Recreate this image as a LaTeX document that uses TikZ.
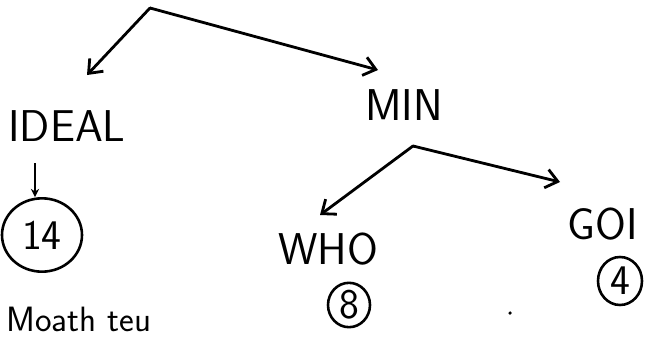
\documentclass[tikz,border=0pt]{standalone}
\usepackage{tikz}
\usetikzlibrary{arrows.meta,positioning,shapes.geometric}

\begin{document}
\begin{tikzpicture}[x=0.03cm, y=-0.03cm,
    every node/.style={font=\sffamily\fontsize{38}{38}\selectfont},
    word/.style={inner sep=1pt},
    score/.style={draw, ellipse, line width=2.2pt, inner sep=1pt, font=\sffamily\fontsize{36}{36}\selectfont},
    branch/.style={line width=2.4pt, line cap=round, -{Straight Barb[length=10pt, width=16pt, line width=2.4pt]}}]
  \useasboundingbox (0,0) rectangle (647,339);
  % Top split into two branches
  \coordinate (root) at (150,8);
  \coordinate (rootL) at (87,75);
  \coordinate (rootR) at (378,70);
  \node[word] (ideal) at (67,126) {IDEAL};
  \node[word] (min) at (404,105) {MIN};
  \draw[branch] (root) -- (rootL);
  \draw[branch] (root) -- (rootR);
  % Left branch score
  \node[score, minimum width=2.4cm, minimum height=2.2cm] (c14) at (42,235) {14};
  \coordinate (idealTip) at (35,163);
  \draw[line width=2pt, -{Stealth[length=7pt, width=7pt]}] (idealTip) -- (c14.north -| idealTip);
  % Second split
  \coordinate (fork) at (413,146);
  \coordinate (forkL) at (320,215);
  \coordinate (forkR) at (560,182);
  \draw[branch] (fork) -- (forkL);
  \draw[branch] (fork) -- (forkR);
  \node[word] (who) at (328,249) {WHO};
  \node[word] (goi) at (603,224) {GOI};
  \node[score, minimum width=1.26cm, minimum height=1.32cm] (c8) at (349,305) {8};
  \node[score, minimum width=1.32cm, minimum height=1.44cm] (c4) at (620,281) {4};
  % Text at the bottom edge
  \node[word, anchor=base west, font=\sffamily\fontsize{30}{30}\selectfont] (note) at (5,331) {Moath teu};
  \fill (510,313) circle (1.5pt);
\end{tikzpicture}
\end{document}
